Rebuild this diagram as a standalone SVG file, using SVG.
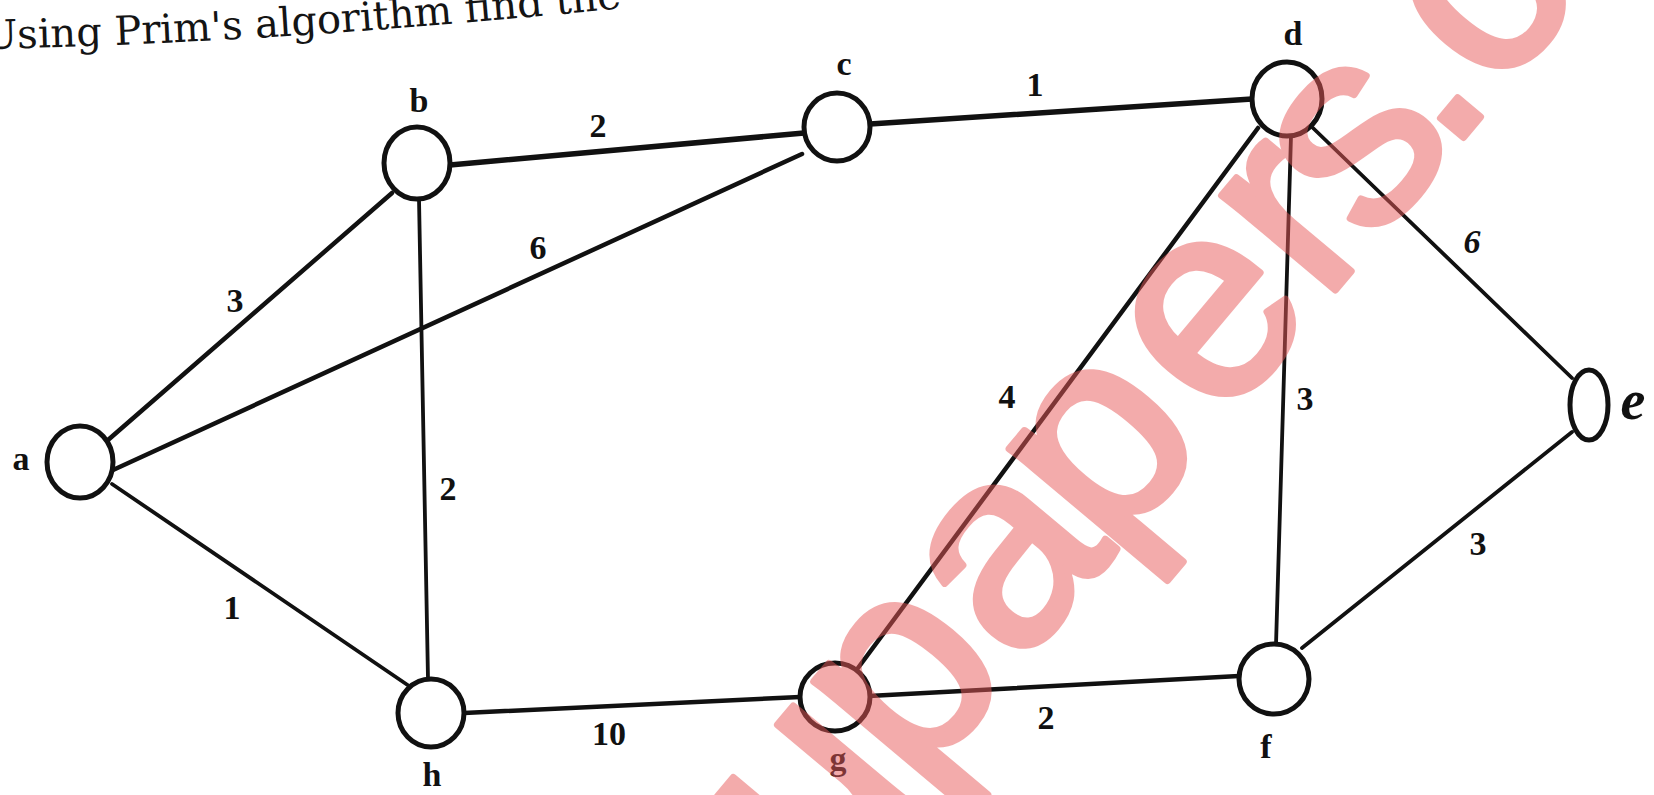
<svg xmlns="http://www.w3.org/2000/svg" width="1654" height="795" viewBox="0 0 1654 795">
<defs>
<path id="titlePath" d="M -16 49 C 150 45, 350 37, 700 0"/>
</defs>
<style>
.edge{stroke:#111;stroke-width:4.5;stroke-linecap:round;fill:none}
.thick{stroke-width:5.5}
.thin{stroke-width:3.8}
.node{fill:#fff;stroke:#111;stroke-width:5}
.lbl{font-family:"Liberation Serif",serif;font-weight:bold;font-size:34px;fill:#111;text-anchor:middle}
.w{font-family:"Liberation Serif",serif;font-weight:bold;font-size:34px;fill:#111;text-anchor:middle}
.ital{font-style:italic}
.title{font-family:"DejaVu Serif",serif;font-size:40px;fill:#141414}
.wm{font-family:"Liberation Sans",sans-serif;font-size:280px;fill:#e85a5a;stroke:#e85a5a;stroke-width:7;stroke-linejoin:round;opacity:0.5}
</style>
<rect width="1654" height="795" fill="#fff"/>
<text class="title"><textPath href="#titlePath">Using Prim's algorithm find the</textPath></text>
<g id="connectors">
  <line class="edge" x1="108" y1="440" x2="392" y2="193"/>
  <line class="edge" x1="113" y1="470" x2="802" y2="154"/>
  <line class="edge thin" x1="112" y1="484" x2="412" y2="688"/>
  <line class="edge thick" x1="450" y1="165" x2="804" y2="133"/>
  <line class="edge thin" x1="419" y1="199" x2="428" y2="679"/>
  <line class="edge thick" x1="870" y1="124" x2="1252" y2="99"/>
  <line class="edge" x1="464" y1="713" x2="800" y2="697"/>
  <line class="edge" x1="858" y1="668" x2="1258" y2="128"/>
  <line class="edge" x1="869" y1="696" x2="1239" y2="676"/>
  <line class="edge thin" x1="1291" y1="136" x2="1276" y2="645"/>
  <line class="edge thin" x1="1313" y1="128" x2="1572" y2="378"/>
  <line class="edge thin" x1="1302" y1="648" x2="1572" y2="432"/>
  <text class="w" x="235" y="312">3</text>
  <text class="w" x="538" y="259">6</text>
  <text class="w" x="598" y="137">2</text>
  <text class="w" x="232" y="619">1</text>
  <text class="w" x="448" y="500">2</text>
  <text class="w" x="609" y="745">10</text>
  <text class="w" x="1035" y="96">1</text>
  <text class="w" x="1007" y="408">4</text>
  <text class="w" x="1305" y="410">3</text>
  <text class="w ital" x="1472" y="253">6</text>
  <text class="w" x="1046" y="729">2</text>
  <text class="w" x="1478" y="555">3</text>
</g>
<g id="node-a"><ellipse class="node" cx="80" cy="462" rx="33" ry="36"/><text class="lbl" x="21" y="470">a</text></g>
<g id="node-b"><ellipse class="node" cx="417" cy="163" rx="33" ry="36"/><text class="lbl" x="419" y="112">b</text></g>
<g id="node-c"><ellipse class="node" cx="837" cy="127" rx="33" ry="34"/><text class="lbl" x="844" y="75">c</text></g>
<g id="node-d"><ellipse class="node" cx="1287" cy="99" rx="35" ry="37"/><text class="lbl" x="1293" y="45">d</text></g>
<g id="node-e"><ellipse class="node" cx="1589" cy="405" rx="19" ry="35"/><text class="lbl ital" x="1633" y="419" style="font-size:56px">e</text></g>
<g id="node-f"><ellipse class="node" cx="1274" cy="679" rx="35" ry="35"/><text class="lbl" x="1266" y="758">f</text></g>
<g id="node-g"><ellipse class="node" cx="835" cy="697" rx="35" ry="34"/><text class="lbl" x="838" y="770">g</text></g>
<g id="node-h"><ellipse class="node" cx="431" cy="713" rx="33" ry="34"/><text class="lbl" x="432" y="786">h</text></g>
<text class="wm" transform="translate(905 680) rotate(-50)" x="-228 -78 81 226 397 556 632 749 826" y="79">upapers.c</text>
</svg>
